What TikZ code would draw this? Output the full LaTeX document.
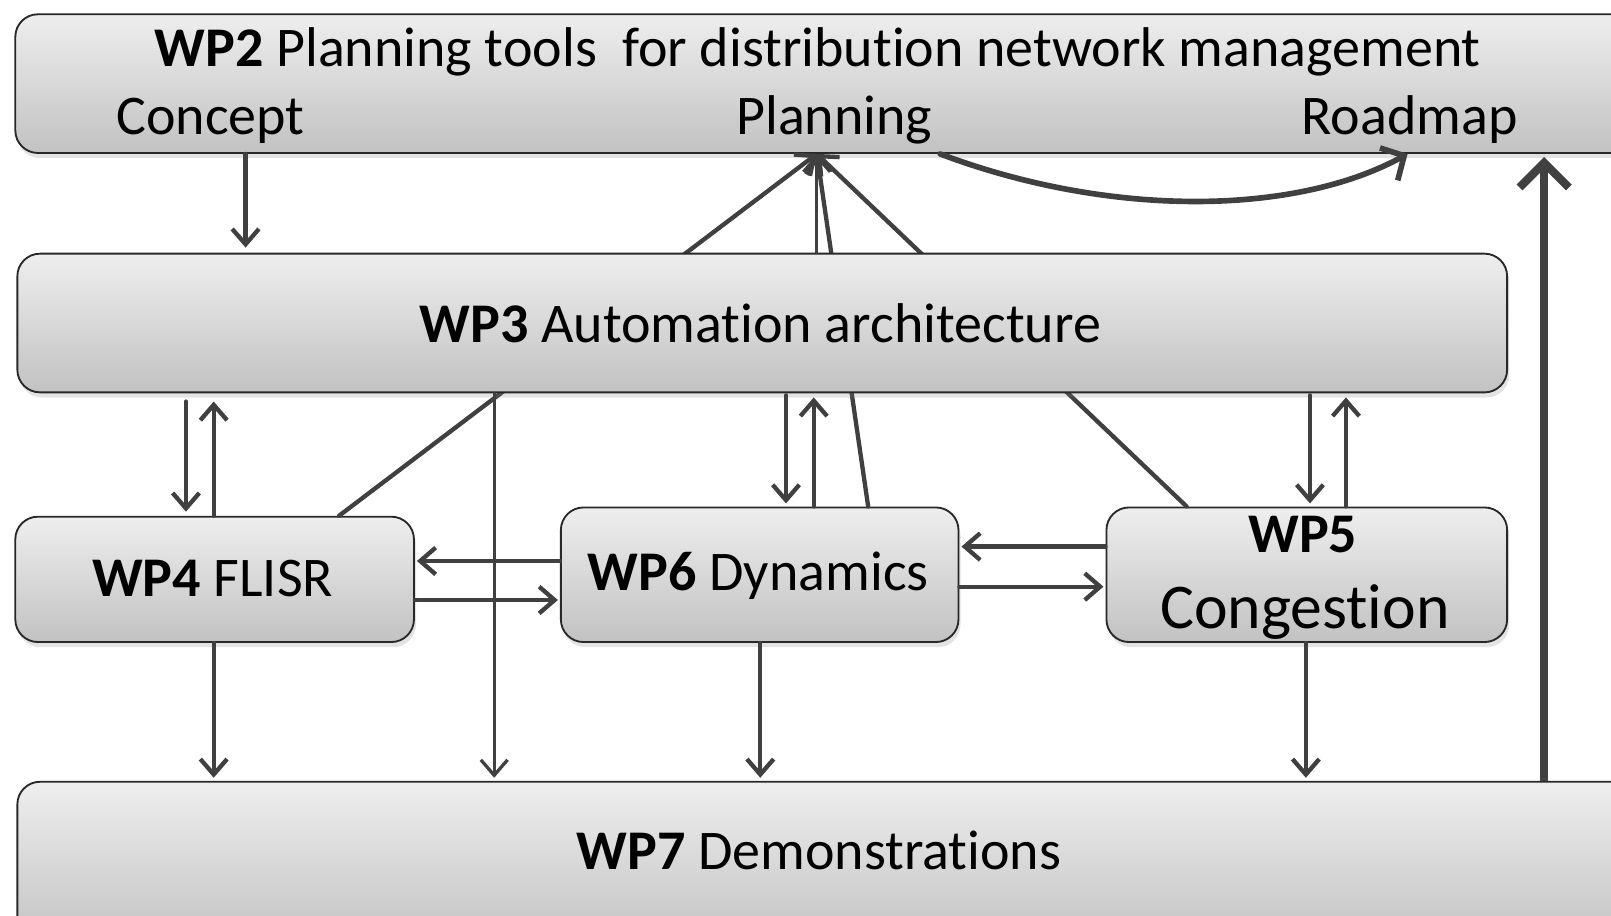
\documentclass[tikz,border=0pt]{standalone}
\usepackage{fontspec}
\setmainfont{Carlito}
\newcommand\tix{t\kern0pt i}
\usetikzlibrary{arrows.meta,shadows}
\definecolor{boxtop}{RGB}{238,238,238}
\definecolor{boxbot}{RGB}{194,194,194}
\definecolor{ln}{RGB}{64,64,64}
\definecolor{edgec}{RGB}{40,40,40}
\tikzset{
  wpbox/.style={draw=edgec, line width=1.8pt, rounded corners=22pt,
    top color=boxtop, bottom color=boxbot, anchor=north west, inner sep=0pt,
    drop shadow={shadow xshift=2pt, shadow yshift=-5pt, opacity=0.22}},
  lbl/.style={anchor=base, inner sep=0pt, font=\fontsize{54.5}{60}\selectfont},
  conn/.style={draw=ln, line width=4.2pt, line cap=round,
    -{Straight Barb[length=15pt,width=26pt]}},
  thinconn/.style={conn, line width=3.2pt}
}
\begin{document}
\begin{tikzpicture}[x=1pt,y=-1pt]
\useasboundingbox (0,0) rectangle (1568,891);
\clip (0,0) rectangle (1568,891);
% boxes drawn under the converging lines
\node[wpbox, minimum width=1590pt, minimum height=135pt] (wp2) at (14,13) {};
\node[wpbox, minimum width=388pt, minimum height=122pt] (wp4) at (14,502) {};
\node[wpbox, minimum width=387pt, minimum height=131pt] (wp6) at (545,493) {};
\node[wpbox, minimum width=390pt, minimum height=131pt] (wp5) at (1076,493) {};
\node[wpbox, minimum width=1590pt, minimum height=160pt] (wp7) at (16,760) {};
\coordinate (pl) at ([xshift=781pt]wp2.south west);
% lines converging on Planning
\draw[conn] ([xshift=316pt]wp4.north west) -- (pl);
\draw[conn] ([xshift=300pt]wp6.north west) -- (pl);
\draw[conn] ([xshift=79pt]wp5.north west) -- (pl);
\node[wpbox, minimum width=1450pt, minimum height=135pt] (wp3) at (16,246) {};
\draw[thinconn] ([xshift=779pt]wp3.north west) -- (pl);
% labels
\node[lbl] (t2) at (796,65) {\textbf{WP2} Planning tools~ for distribu\tix on network management};
\node[lbl] (concept) at (205,131) {Concept};
\node[lbl] (planning) at (812,131) {Planning};
\node[lbl] (roadmap) at (1372,131) {Roadmap};
\node[lbl] (t3) at (740,333) {\textbf{WP3} Automa\tix on architecture};
\node[lbl] (t4) at (207,581) {\textbf{WP4} FLISR};
\node[lbl] (t6) at (738,575) {\textbf{WP6} Dynamics};
\node[lbl] (t5a) at (1268,538) {\textbf{WP5}};
\node[lbl, font=\fontsize{62}{70}\selectfont] (t5b) at (1270,612) {Conges\tix on};
\node[lbl] (t7) at (797,846) {\textbf{WP7} Demonstra\tix ons};
% Concept -> WP3
\draw[conn, shorten >=5pt] ([xshift=225pt]wp2.south west) -- ([xshift=223pt]wp3.north west);
% Planning -> Roadmap
\draw[draw=ln, line width=5.5pt, line cap=round, -{Straight Barb[length=17pt,width=36pt]}]
  ([xshift=901pt]wp2.south west) .. controls (1080,212) and (1260,210) .. ([xshift=1356pt]wp2.south west);
% WP7 -> WP2 (thick)
\draw[draw=ln, line width=8pt, -{Straight Barb[length=24pt,width=48pt]}, shorten >=3pt]
  ([xshift=1487pt]wp7.north west) -- ([xshift=1489pt]wp2.south west);
% WP3 <-> WP4
\draw[conn, shorten <=8pt, shorten >=4pt] ([xshift=165pt]wp3.south west) -- ([xshift=167pt]wp4.north west);
\draw[conn, shorten >=8pt] ([xshift=194pt]wp4.north west) -- ([xshift=192pt]wp3.south west);
% WP3 -> WP7
\draw[thinconn, shorten >=3pt] ([xshift=465pt]wp3.south west) -- ([xshift=465pt]wp7.north west);
% WP3 <-> WP6
\draw[conn, shorten <=2pt, shorten >=3pt] ([xshift=749pt]wp3.south west) -- ([xshift=220pt]wp6.north west);
\draw[conn, shorten >=4pt] ([xshift=247pt]wp6.north west) -- ([xshift=776pt]wp3.south west);
% WP3 <-> WP5
\draw[conn, shorten <=2pt, shorten >=3pt] ([xshift=1259pt]wp3.south west) -- ([xshift=199pt]wp5.north west);
\draw[conn, shorten >=4pt] ([xshift=234pt]wp5.north west) -- ([xshift=1294pt]wp3.south west);
% horizontal links
\draw[conn, shorten >=2pt] ([yshift=-53pt]wp6.north west) -- ([yshift=-44pt]wp4.north east);
\draw[conn, shorten >=2pt] ([yshift=-82pt]wp4.north east) -- ([yshift=-91pt]wp6.north west);
\draw[conn, shorten >=2pt] ([yshift=-39pt]wp5.north west) -- ([yshift=-39pt]wp6.north east);
\draw[conn, shorten >=2pt] ([yshift=-78pt]wp6.north east) -- ([yshift=-78pt]wp5.north west);
% down to WP7
\draw[conn, shorten >=3pt] ([xshift=194pt]wp4.south west) -- ([xshift=192pt]wp7.north west);
\draw[conn, shorten >=3pt] ([xshift=195pt]wp6.south west) -- ([xshift=724pt]wp7.north west);
\draw[conn, shorten >=3pt] ([xshift=195pt]wp5.south west) -- ([xshift=1255pt]wp7.north west);
\end{tikzpicture}
\end{document}
